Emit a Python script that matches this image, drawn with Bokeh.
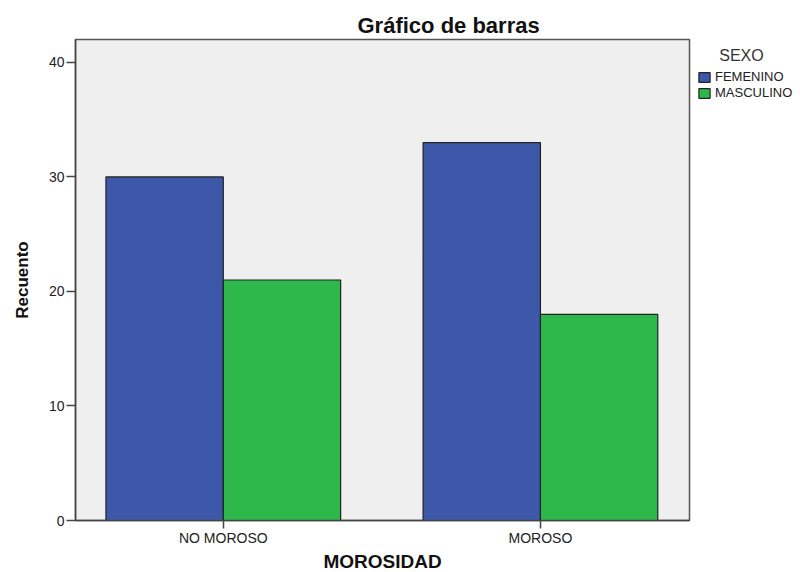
from bokeh.plotting import figure
from bokeh.models import Range1d, FixedTicker, Legend, LegendItem, ColumnDataSource, Title
from bokeh.embed import file_html
from bokeh.resources import INLINE

categories = ["NO MOROSO", "MOROSO"]
series_names = ["FEMENINO", "MASCULINO"]
femenino = [30, 33]
masculino = [21, 18]
colors = ["#3d58a8", "#2eb84b"]
y_ticks = [0, 10, 20, 30, 40]

FONT = "Liberation Sans"
bar_w = 0.37
xpos = list(range(1, len(categories) + 1))

FW, FH = 614, 481

p = figure(frame_width=FW, frame_height=FH, output_backend="svg", toolbar_location=None,
           x_range=Range1d(1 - 0.466, len(categories) + 0.47), y_range=Range1d(0, 42),
           min_border_left=75, min_border_right=111, min_border_top=39, min_border_bottom=50)
p.title = None
p.add_layout(Title(text="Gráfico de barras", align="left", offset=282,
                   text_font=FONT, text_font_size="22px", text_font_style="bold",
                   text_color="#111111", standoff=4), "above")

p.background_fill_color = "#efefef"
p.border_fill_color = "white"
p.outline_line_color = "#555555"
p.outline_line_width = 1.5
p.xgrid.visible = False
p.ygrid.visible = False

renderers = []
for i, (name, vals) in enumerate(zip(series_names, [femenino, masculino])):
    src = ColumnDataSource(dict(x=[x + (i - 0.5) * bar_w for x in xpos], top=vals))
    r = p.vbar(x="x", top="top", bottom=0, width=bar_w, source=src,
               fill_color=colors[i], line_color="#222222", line_width=1.2)
    renderers.append(r)

# Y axis
p.yaxis.ticker = FixedTicker(ticks=y_ticks)
p.yaxis.minor_tick_line_color = None
p.yaxis.major_tick_in = 0
p.yaxis.major_tick_out = 9
p.yaxis.axis_line_color = "#444444"
p.yaxis.axis_line_width = 1.5
p.yaxis.major_tick_line_color = "#444444"
p.yaxis.major_tick_line_width = 1.5
p.yaxis.major_label_text_font = FONT
p.yaxis.major_label_text_font_size = "14px"
p.yaxis.major_label_text_color = "#222222"
p.yaxis.major_label_standoff = 2
p.yaxis.axis_label = "Recuento"
p.yaxis.axis_label_text_font = FONT
p.yaxis.axis_label_text_font_size = "17px"
p.yaxis.axis_label_text_font_style = "bold"
p.yaxis.axis_label_text_color = "#111111"
p.yaxis.axis_label_standoff = 14

# X axis
p.xaxis.ticker = FixedTicker(ticks=xpos)
p.xaxis.major_label_overrides = {x: c for x, c in zip(xpos, categories)}
p.xaxis.minor_tick_line_color = None
p.xaxis.major_tick_in = 0
p.xaxis.major_tick_out = 8
p.xaxis.axis_line_color = "#444444"
p.xaxis.axis_line_width = 1.5
p.xaxis.major_tick_line_color = "#444444"
p.xaxis.major_tick_line_width = 1.5
p.xaxis.major_label_text_font = FONT
p.xaxis.major_label_text_font_size = "14px"
p.xaxis.major_label_text_color = "#222222"
p.xaxis.major_label_standoff = 1
p.xaxis.axis_label = "MOROSIDAD"
p.xaxis.axis_label_text_font = FONT
p.xaxis.axis_label_text_font_size = "19px"
p.xaxis.axis_label_text_font_style = "bold"
p.xaxis.axis_label_text_color = "#111111"
p.xaxis.axis_label_standoff = 2

legend = Legend(items=[LegendItem(label=n, renderers=[r]) for n, r in zip(series_names, renderers)],
                location="top_left", title="\u00a0\u00a0\u00a0\u00a0\u00a0SEXO",
                title_text_font=FONT, title_text_font_size="16px", title_text_font_style="normal",
                title_text_color="#333333", title_standoff=4,
                label_text_font=FONT, label_text_font_size="13px", label_text_color="#222222",
                glyph_width=14, glyph_height=12, label_standoff=4, spacing=1,
                label_height=14, padding=0, margin=8, border_line_color=None,
                background_fill_alpha=0)
p.add_layout(legend, "right")

open("out.html", "w").write(file_html(p, INLINE))
